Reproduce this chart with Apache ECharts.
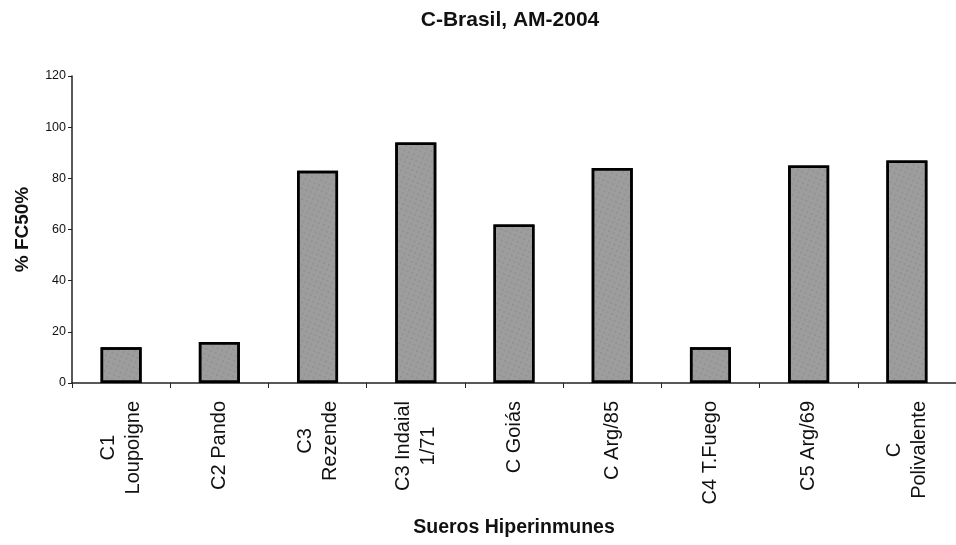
<!DOCTYPE html>
<html>
<head>
<meta charset="utf-8">
<script src="https://cdn.jsdelivr.net/npm/echarts@6/dist/echarts.min.js"></script>
<style>html,body{margin:0;padding:0;background:#fff}#c{width:956px;height:545px}</style>
</head>
<body>
<div id="c"></div>
<script>
const categories = ["C1\nLoupoigne", "C2 Pando", "C3\nRezende", "C3 Indaial\n1/71", "C Goiás", "C Arg/85", "C4 T.Fuego", "C5 Arg/69", "C\nPolivalente"];
const values = [14, 16, 83, 94, 62, 84, 14, 85, 87];
const yTicks = [0, 20, 40, 60, 80, 100, 120];

const FONT = "'Liberation Sans', Arial, sans-serif";
const chart = echarts.init(document.getElementById('c'), null, {renderer: 'canvas'});
chart.setOption({
  animation: false,
  backgroundColor: '#fff',
  title: {
    text: 'C-Brasil, AM-2004',
    left: 505, top: 5, textAlign: 'center',
    textStyle: {fontFamily: FONT, fontSize: 21, fontWeight: 'bold', color: '#111'}
  },
  grid: {left: 72, top: 76, width: 889, bottom: 162, containLabel: false},
  xAxis: {
    type: 'category',
    data: categories,
    name: 'Sueros Hiperinmunes',
    nameLocation: 'middle',
    nameGap: 135,
    nameTextStyle: {fontFamily: FONT, fontSize: 19.5, fontWeight: 'bold', color: '#111'},
    axisLine: {lineStyle: {color: '#222', width: 1.5}},
    axisTick: {show: true, alignWithLabel: false, length: 5, lineStyle: {color: '#222'}},
    axisLabel: {
      rotate: 90, margin: 18, interval: 0, color: '#111', fontFamily: FONT, fontSize: 20,
      lineHeight: 25,
      formatter: function (v) { return v.split('\n').map(s => '{a|' + s + '}').join('\n'); },
      rich: {a: {align: 'center', fontFamily: FONT, fontSize: 20, lineHeight: 25, color: '#111'}}
    }
  },
  yAxis: {
    type: 'value',
    min: 0, max: 120, interval: 20,
    name: '% FC50%',
    nameLocation: 'middle',
    nameGap: 40,
    nameRotate: 90,
    nameTextStyle: {fontFamily: FONT, fontSize: 19, fontWeight: 'bold', color: '#111'},
    axisLine: {show: true, lineStyle: {color: '#222', width: 1.5}},
    axisTick: {show: true, length: 4, lineStyle: {color: '#222'}},
    splitLine: {show: false},
    axisLabel: {
      margin: 6, color: '#111', fontFamily: FONT, fontSize: 12.5,
      formatter: function (v) { return yTicks.indexOf(v) >= 0 ? String(v) : ''; }
    }
  },
  series: [{
    type: 'bar',
    data: values,
    barWidth: 41,
    itemStyle: {
      color: '#9d9d9d',
      borderColor: '#000',
      borderWidth: 2.5,
      decal: {symbol: 'rect', symbolSize: 0.6, color: 'rgba(60,60,60,0.35)', dashArrayX: [2, 3], dashArrayY: [2, 3], rotation: 0.4}
    }
  }]
});
</script>
</body>
</html>
